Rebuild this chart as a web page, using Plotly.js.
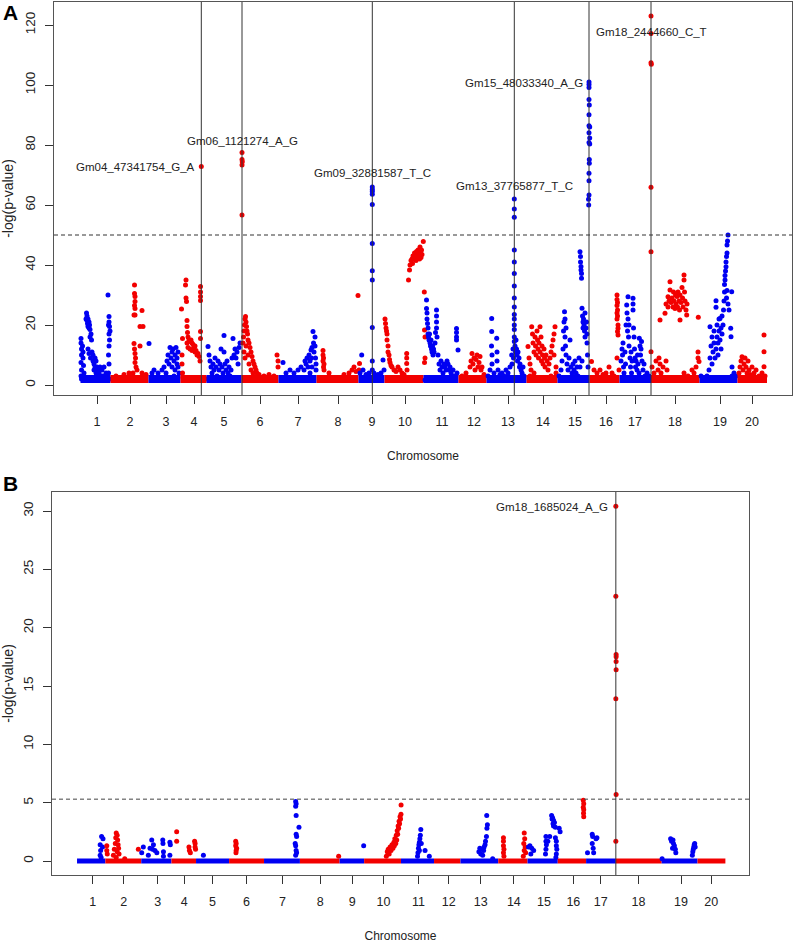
<!DOCTYPE html>
<html><head><meta charset="utf-8">
<script src="https://cdn.plot.ly/plotly-3.0.1.min.js"></script>
<style>html,body{margin:0;padding:0;background:#fff}</style>
</head><body><div id="chart" style="width:794px;height:943px"></div>
<script>
// ---------------- DATA ----------------
const chrLabels = ['1','2','3','4','5','6','7','8','9','10','11','12','13','14','15','16','17','18','19','20'];
// cumulative genome position (arbitrary units) of each chromosome label
const chrTicks = [43,76,112,140,170,206,244,284,318,351,388,420,454,489,521,552,581,621,666,698];
// chromosome boundaries on the cumulative axis
const chrBounds = [26.5,56.5,94.5,126.5,152.5,187.5,224.5,262.5,304.5,330.5,369.5,404.5,432.5,472.5,503.5,535.5,565.5,597,645.5,683.5,713];
// bulk level of the non-significant SNPs in each panel
const floorLevelA = 2.0;
const floorLevelB = 0;
const thresholdA = 50;
const thresholdB = 5.3;

// Panel A significant SNPs
const sigSnpA = ['Gm04_47341754_G_A','Gm06_1121274_A_G','Gm09_32881587_T_C','Gm13_37765877_T_C','Gm15_48033340_A_G','Gm18_2444660_C_T'];
const sigPosA = [147.3,188,318.3,460.3,535,597];
const sigValA = [72.8,77.5,66,62,101,123];
// Panel B significant SNP
const sigSnpB = ['Gm18_1685024_A_G'];
const sigPosB = [597];
const sigValB = [30.4];

// Panel A: [position, -log(p)] per chromosome
const a01 = [[27,15.5],[27,14],[27.5,12],[27.5,10],[27,7.5],[27.5,5],[27,3],[27.5,2],[28.5,13],[29,11],[29,9],[29.5,6.5],[30,4],
 [32,22],[32.5,24],[33,23],[33,21.5],[33.5,20.5],[34,19.5],[34,22],[35,21],[35,19],[35.5,20],[36,18.5],[36,16],[37,17],[37.5,15],[34,12],[35,10.5],[36.5,9],
 [38,11],[39,10],[39,8],[40,7],[40,5],[41,9],[41,6],[42,4],[42,8],[43,3],[43,6],[44,5],[44,2],[45,4],[46,3],[46,6],[47,2],[48,5],[48,3],[49,2],[50,6],[50,3],[51,2],[52,4],[53,2],
 [54,30],[54.5,20],[55,22.8],[55,21],[55.5,19.5],[56,18],[55,17],[55.5,15],[55,13],[54.5,10],[55,7],[54.5,4],[56,2]];
const a02 = [[80.5,33.3],[80.5,30.5],[81,29.5],[81,27.8],[80.5,26.5],[81,25.5],[81,23.3],[80,23.3],[88,24.8],[86,19.5],[89,19.5],[80,13.8],[80.5,12],[81,10.5],[81.5,9],[81,7.5],[82,6],[86,13],[83,5],[79,4],[88,4],[92,3.5],[70,3.5],[62,3],[75,4]];
const a03 = [[95,13.8],[98,4],[100,5],[104,4],[108,5],[110,6],[112,4],[113,8],[114,10],[115,7],[116,12.5],[117,9],[118,11],[118,6],[119,12],[120,8],[121,10],[121,5],[122,12.5],[123,9],[123,7],[124,6],[124,11],[125,4],[120,3]];
const a04 = [[127.5,25.3],[128.5,15.5],[128,10],[128,7],[128.5,4],[129,2.5],[132,35],[131.5,33.3],[132,29],[132.5,27.8],[133,21.5],[133,19.5],[133.5,17.5],[133,14],[134,16],[135,15],[136,14.5],[137,15],[138,14],[139,13.5],[140,12.5],[141,13],[141,11],[142,11.5],[143,10],[144,10.5],[145,9.5],[146,8],[136,12],[138,11.5],[134,12.5],
 [146.5,32.8],[146.5,31],[146.5,29.5],[146.5,28.2],[146.5,17.8],[146.5,15.5],[148,2],[150,2.5],[152,2],[147.3,72.8]];
const a05 = [[154,12.8],[155,10],[156,8],[157,6],[158,4],[159,7],[160,5],[161,9],[162,6],[163,3],[164,8],[165,5],[166,7],[167,12],[168,6],[169,4],[170,16.5],[170,11],[171,7],[172,5],[173,8],[174,4],[175,6],[176,3],[177,5],[178,9],[179,15.5],[180,10],[181,12],[182,9],[183,11],[184,7],[185,12.5],[186,14]];
const a06 = [[189,14],[189.5,16],[190,18],[190.5,20],[191,22],[191.5,22.8],[192,21],[192.5,19.5],[193,18],[193.5,17],[194,15],[195,14],[196,12.5],[197,11],[198,9.5],[199,8],[200,7],[201,6],[202,5],[203,4],[205,3.5],[190,11],[191,9],[192,13],[194,10],[195,7],[197,5],[199,4],[210,3],[215,3.5],[220,3],[223,10],[224,8],[224,6],
 [188,77.5],[188,75.2],[188.3,74.4],[188,73.3],[188,56.7]];
const a07 = [[229,7.5],[232,4],[236,5],[240,4],[244,5],[247,6],[250,5],[251,8],[252,7],[253,9],[254,6],[255,10],[256,8],[257,11.7],[257.5,9],[258,12.5],[259,17.8],[259.5,14],[260,11],[261,16],[261,13],[261.5,9],[262,7],[262,5],[258,6],[256,4]];
const a08 = [[269,11.5],[269,10],[269.5,9],[269,8],[270,7],[269.5,6],[270,5],[275,4],[290,3.5],[295,4],[298,5],[300,6],[302,4.5],[304,29.8],[305.5,7.2],[305,5]];
const a09 = [[307.7,10],[306,4],[309,5],[312,3.5],[315,4],[318.3,47.2],[318.3,38.1],[318.3,35],[318.3,19.2],[318.3,8],[318.3,5],[320,4],[324,3.5],[327,4],[329,8.3],[330,5],
 [318.3,66],[318.3,65.2],[318.3,64.5],[318.3,63.6],[318.3,60.2]];
const a10 = [[331,22],[331.5,20.5],[332,19],[332.5,18],[333,17],[333,15],[334,13],[334,11],[335,10],[335.5,8.5],[336,7.5],[337,6.5],[338,6],[340,5],[342,4.5],[344,6],[346,5],[348,4],[350,3.5],[352.7,10.5],[352.7,9],[352.7,7.2],[353,5],
 [354.5,35],[355.5,38.3],[356,40],[357,41.5],[358,42],[358.5,40.5],[359,43],[360,42],[360.5,44],[361,43],[362,41.5],[362.5,44.5],[363,42.5],[364,45],[364.5,43],[365,44],[365.5,42],[366,46],[366.5,44],[367,42.5],[367.5,45],[368,43.5],[369.3,47.8],[370.3,31],[370.5,18.3],[371,16],[371,9],[370.5,7.5]];
const a11 = [[371,1.7],[372.5,28.3],[372.5,25.5],[373,24],[373,22],[373.5,20.5],[374,19],[374,17],[374.5,16],[375,15],[375.5,17],[376,14],[376.5,13],[377,15],[377.5,12],[378,11],[378.5,13],[379,10],[379.5,12],[380,11],[381,14],[381.5,17.5],[382.5,25],[382.5,23],[382.5,21],[382.5,19],[383,16],[384,10],[385,7],[386,5],[387,8],[388,6],[389,4],[390,7],[391,6],[392,5],[393,8],[394,7],[395,5],[396,6],[397,4],[398,3],[399,5],[400,3],[402.5,18.8],[402.5,17.5],[402.5,16],[402.5,15],[404,11.7],[403,4]];
const a12 = [[408,3],[412,4],[416,6],[417,8],[418,10.5],[419,7],[420,9],[421,5],[422,8.5],[423,10],[424,6],[425,7.5],[426,9.5],[427,5],[428,6],[430,3.5]];
const a13 = [[434,3],[436,5],[437.7,22.2],[437.7,17.8],[437.5,13],[438,10],[438,7],[440,4],[442.7,15.6],[443,11],[443,8],[444,5],[446,3.5],[448,4],[450,3],[452,5],[454,4],[456,6],[457.7,10],[458,7],[459,12],[459.5,9],
 [460.3,45],[460.3,41],[460.3,37.2],[460.3,33],[460.3,29],[460.3,26],[460.3,23.5],[460.3,22],[460.3,20],[460.3,18.5],[460.3,16],[460.3,14.5],[461,13],[461.5,11],[462,15],[462.5,12],[463,10],[463.5,8],[464,11],[465,9],[465.5,6],[466,7],[467,5],[468,4],[469,6],[470,3],
 [460.3,62],[460.3,58.7],[460.3,55.9]];
const a14 = [[474,12.8],[475,9],[476,7],[477,5],[477.7,19.4],[478.5,17],[479,14],[480,11],[481,16],[481.5,13],[482,10],[483,18],[483.5,15],[484,12],[484.5,9],[485,14],[486,19.4],[486,11],[487,16],[487.5,8],[488,13],[488.5,10],[489,7],[490,12],[490.5,9],[491,6],[492,10],[493,8],[494,5],[495,7],[496,9],[497,11],[498,13],[499,15],[500,17],[501,19.4],[500,10],[502,6],[502,4],[476,3],[480,4],[497,3]];
const a15 = [[505,3],[507,5],[508,8],[509,12],[509.5,18],[510,21],[510.5,24.4],[511,22],[511,16],[511.5,13],[512,19],[512,10],[513,7],[514,5],[515,9],[516,15],[517,6],[518,4],[519,7],[520,5],[521,8],[522,4],[523,6],[524,3],
 [526,44.4],[526.5,42.8],[526.5,41],[527,39.5],[527,38.3],[527.5,37.2],[527.5,35.6],[528,25.6],[528.5,23],[529,21],[529,19],[529.5,22],[530,20],[530.5,18],[531,24],[531,16],[532,19],[532.5,21],[533,17],[533,14],[533.5,10],[534,6],[525,9],[526,6],[528,8],
 [535,101],[535,100.2],[535,99.2],[535,95.2],[535.3,93.3],[535,90.1],[535,86.4],[535.7,86],[535,84.1],[535.7,82.3],[535,80.8],[535.7,80.3],[535.3,75.2],[535.3,73.9],[535,70.6],[535,68.1],[535,63.3],[534.5,61.9],[534.7,60]];
const a16 = [[537.5,7.8],[540,5],[543,4],[546,5],[549,3.5],[552,4],[555,6],[558,4],[560,3],[563,30],[563,28.5],[563.5,27.5],[563,26.5],[563.5,25],[563,24],[563.5,23],[563,22],[564,20],[564,18.9],[563.5,17.8],[564,16.7],[563,9],[565,5]];
const a17 = [[567,8],[568,12],[568.5,10],[569,14],[569.5,6],[570,4],[571,11],[571.5,7],[572,20],[572.7,26.7],[573,24],[573.5,18],[574,29.4],[574,22],[574.5,16],[575,20],[575,13],[576,9],[576.5,6],[577,11],[577.5,4],[578,8],[579,28.9],[579,27],[579,25],[579.5,19],[580,16],[580.5,12],[581,9],[581.5,6],[582,8],[583,5],[583.5,10],[584,7],[585,4],[585.3,15.6],[586,13],[586.5,10],[587,12],[587.5,14.5],[588,8],[589,5],[590,7],[591,3],[593,4],[595,3]];
const a18 = [[597,123],[597,117.2],[597,107.4],[597.3,106.9],[597,65.9],[597,44.4],[597,11.1],
 [598,6],[600,4],[602,8],[604,5],[605,9],[606,21.7],[606,7],[607,4],[609,6],[611,23.9],[612,27],[612,8],[613,5],[614,29.4],[614,26],[615,28],[616,34.4],[616,31.7],[617,27.5],[618,29],[619,26],[619.5,31],[620,28],[621,25.5],[621.5,30],[622,27],[623,29.5],[623.5,26],[624,31],[625,28],[625.5,25],[626,30],[626,21.7],[627,27.5],[628,32.5],[628.5,29],[629,26],[630,36.7],[630,35],[630.5,31],[631,28],[632,25],[632.7,23.3],[633,27],[630,4],[634,3],[638,5],[640,4],[642,6],[644,11],[644,9],[644.3,22.6],[645,7.8]];
const a19 = [[647,3],[650,2.5],[653,3],[655,5],[656,19.4],[656,9],[657,13],[658,16],[658,7],[659,11],[660,14],[660,18],[661,9],[662,28.1],[662,25.9],[662,12],[663,16],[663,20],[664,14],[664,10],[665,18],[665,22],[666,22.2],[666,15],[667,19],[667,12],[668,17],[668,23],[669,20],[669.5,25],[670,28],[670.5,31],[670.5,33.5],[671,35],[671,36.5],[671.5,38],[672,39.4],[672,41],[672.5,42.8],[673,44],[673,46.7],[673.5,48],[674,50],[672.5,29],[673,31.5],[674,27],[675,25],[676.7,18.9],[677,16.1],[677.7,31.1],[678,6],[678,3],[680,4],[682,3]];
const a20 = [[685,4],[686,6],[687,8],[688,9.4],[689,5],[690,7],[691,9],[692,6],[693,4],[694,8],[695,5],[696,3.5],[698,6],[700,4],[702,5],[705,3],[708,4],[710,16.7],[710,11.1],[710,6.1],[711,3]];

// Panel B: [position, -log(p)] per chromosome
const b01 = [[52.5,2.1],[54,1.9],[51,1.4],[51.5,0.9],[51,0.5],[52,0.3],[53.5,1.2]];
const b02 = [[58,1.3],[58,0.9],[58.5,0.6],[65,0.5],[66,1.0],[67,1.5],[67.5,2.0],[68,2.4],[69,2.2],[69.5,1.8],[70,1.4],[70.5,1.1],[69,0.8],[68,0.3],[71,0.6],[77,0.2],[91.4,1.0]];
const b03 = [[95,0.7],[96.7,1.2],[102,0.5],[103.8,1.1],[105.6,1.8],[106.5,1.0],[107.4,1.4],[109,0.9],[111,0.7],[117.3,1.8],[117.5,1.5],[118,0.8],[118,0.4],[124.8,1.6],[125.3,1.4],[124.8,0.5]];
const b04 = [[132,2.5],[132,1.7],[145,1.2],[145.5,0.9],[146.5,0.7],[151,1.7],[151.5,1.5],[151.5,1.2],[152,1.0]];
const b05 = [[160.3,0.5]];
const b06 = [[194.5,1.7],[195,1.5],[194.5,1.3],[195.5,1.1],[195,0.9],[194.8,0.7]];
const b07 = [[258,5.1],[258.5,4.9],[258,4.7],[258.5,3.9],[261.5,2.9],[258.5,2.3],[259,2.1],[257.5,1.5],[258,1.3],[258.5,0.9],[259,0.7],[258,0.5]];
const b08 = [[303.5,0.4]];
const b09 = [[330,1.3]];
const b10 = [[354,0.4],[355,0.8],[356,1.0],[357,0.6],[358,1.2],[359,0.9],[360,1.4],[361,1.1],[362,1.6],[362.5,1.3],[363,1.9],[364,1.5],[364.5,2.2],[365,1.8],[365.5,2.6],[366,2.3],[366.5,3.0],[367,2.8],[367.5,3.4],[368,3.2],[368.5,3.8],[369,3.6],[369.5,4.0],[369.6,4.8]];
const b11 = [[390.5,2.7],[390,2.2],[389.5,1.9],[389,1.6],[388.5,1.4],[388,1.1],[387.5,0.7],[387,0.4],[389,0.9],[391,1.5],[395,0.9],[399.5,0.4]];
const b12 = [];
const b13 = [[460.3,3.9],[461,3.1],[460.5,2.8],[460,2.1],[459,1.7],[458.5,1.4],[457,0.9],[452,0.8],[453,1.1],[454,0.6],[455,1.0],[456,0.5],[457.5,1.2],[466.6,0.2]];
const b14 = [[478,2.0],[478,1.7],[478,1.3],[478.5,1.0],[478,0.7],[478.5,0.4],[500,2.4],[500.5,1.9],[499.5,1.5],[501,1.2],[500,0.9],[501.5,0.7],[499,0.4]];
const b15 = [[504.5,1.2],[506,1.3],[508,1.1],[510,0.9],[507,0.6],[523,2.1],[523,1.7],[523.5,1.4],[523,1.0],[522.5,0.6],[527,2.1],[525,1.7],[529,3.9],[530,3.7],[531,3.5],[532,3.3],[531,3.0],[533,2.9],[530.5,3.2],[529.5,3.6],[537,2.8],[538,2.5],[534,1.7],[534,1.3],[534.5,1.0],[534,0.6],[533.5,0.3],[533,2.0]];
const b16 = [[562.5,5.2],[563,4.9],[562.5,4.6],[563,4.4],[562.8,4.1],[563,3.8]];
const b17 = [[567,0.7],[572,2.3],[572.5,2.1],[576,1.9],[572,1.5],[573,1.1],[573.5,0.7],[577,2.0]];
const b18 = [[597,30.4],[597,22.7],[597.3,17.7],[597.3,17.5],[597.3,17.1],[597.3,16.4],[597,13.9],[597.3,5.7],[597,1.7]];
const b19 = [[646,0.2],[655,1.9],[656,1.7],[657.5,1.8],[658,1.5],[659,1.3],[657,1.1],[660,1.0],[660.5,0.7],[678,0.5],[678.5,0.8],[679,1.0],[679.5,1.2],[680,1.4],[680.5,1.5],[681,1.2]];
const b20 = [];

// ---------------- STYLE / BUILD ----------------
const BLUE = '#0000F2', RED = '#F20000';
const REG = '"Liberation Sans", Arial, sans-serif';
const aChrs = [a01,a02,a03,a04,a05,a06,a07,a08,a09,a10,a11,a12,a13,a14,a15,a16,a17,a18,a19,a20];
const bChrs = [b01,b02,b03,b04,b05,b06,b07,b08,b09,b10,b11,b12,b13,b14,b15,b16,b17,b18,b19,b20];

function build(chrs, xa, ya, floorLevel, floorWidth, msize) {
  const out = [];
  chrs.forEach((pts, i) => {
    const col = i % 2 === 0 ? BLUE : RED;
    out.push({type:'scatter', mode:'lines', x:[chrBounds[i], chrBounds[i+1]], y:[floorLevel, floorLevel],
      xaxis:xa, yaxis:ya, line:{color:col, width:floorWidth}, hoverinfo:'skip', showlegend:false});
    out.push({type:'scatter', mode:'markers', name:'Chr ' + chrLabels[i],
      x:pts.map(p => p[0]), y:pts.map(p => p[1]), xaxis:xa, yaxis:ya,
      marker:{color:col, size:msize, line:{width:0}}, showlegend:false});
  });
  return out;
}
const traces = build(aChrs, 'x', 'y', floorLevelA, 8, 5).concat(build(bChrs, 'x2', 'y2', floorLevelB, 5, 5));

const xTickFont = {family:REG, size:12.5, color:'#222'};
const yTickFont = {family:REG, size:13.5, color:'#222'};
function xAxis(domain, anchor) {
  return {domain:domain, anchor:anchor, range:[0,738], tickmode:'array', tickvals:chrTicks, ticktext:chrLabels,
    ticks:'outside', ticklen:8, tickcolor:'#333', showline:true, mirror:true, linecolor:'#555', linewidth:1,
    showgrid:false, zeroline:false, tickfont:xTickFont, ticklabelstandoff:7,
    title:{text:'Chromosome', font:{family:REG, size:12, color:'#222'}, standoff:23}};
}
function yAxis(domain, anchor, range, tv) {
  return {domain:domain, anchor:anchor, range:range, tickmode:'array', tickvals:tv, tickangle:-90,
    ticks:'outside', ticklen:8, tickcolor:'#333', showline:true, mirror:true, linecolor:'#555', linewidth:1,
    showgrid:false, zeroline:false, tickfont:yTickFont, ticklabelstandoff:5,
    title:{text:'-log(p-value)', font:{family:REG, size:14, color:'#222'}, standoff:10}};
}

const shapes = [
  {type:'line', xref:'x domain', x0:0, x1:1, yref:'y', y0:thresholdA, y1:thresholdA, line:{color:'#333', width:1, dash:'4px,3px'}},
  {type:'line', xref:'x2 domain', x0:0, x1:1, yref:'y2', y0:thresholdB, y1:thresholdB, line:{color:'#444', width:1, dash:'4px,3px'}}
];
sigPosA.forEach(p => shapes.push({type:'line', xref:'x', x0:p, x1:p, yref:'y domain', y0:0, y1:1, line:{color:'#333', width:1}}));
sigPosB.forEach(p => shapes.push({type:'line', xref:'x2', x0:p, x1:p, yref:'y2 domain', y0:0, y1:1, line:{color:'#333', width:1}}));

// label placement relative to the SNP (pixels)
const labelPlaceA = [
  {xanchor:'right', xshift:-4, yshift:0},
  {xanchor:'center', xshift:0, yshift:11.5},
  {xanchor:'center', xshift:0, yshift:14},
  {xanchor:'center', xshift:0, yshift:13},
  {xanchor:'right', xshift:-4, yshift:-1},
  {xanchor:'center', xshift:0, yshift:-16}
];
const labelPlaceB = [{xanchor:'right', xshift:-6, yshift:-1}];
const labFont = {family:REG, size:11.5, color:'#222'};
const annotations = [];
sigSnpA.forEach((s, i) => annotations.push(Object.assign({text:s, x:sigPosA[i], y:sigValA[i], xref:'x', yref:'y',
  showarrow:false, yanchor:'middle', font:labFont}, labelPlaceA[i])));
sigSnpB.forEach((s, i) => annotations.push(Object.assign({text:s, x:sigPosB[i], y:sigValB[i], xref:'x2', yref:'y2',
  showarrow:false, yanchor:'middle', font:labFont}, labelPlaceB[i])));
annotations.push({text:'<b>A</b>', xref:'paper', yref:'paper', x:10/794, y:1-13/943, xanchor:'center', yanchor:'middle', showarrow:false, font:{family:REG, size:21, color:'#000'}});
annotations.push({text:'<b>B</b>', xref:'paper', yref:'paper', x:10/794, y:1-484/943, xanchor:'center', yanchor:'middle', showarrow:false, font:{family:REG, size:21, color:'#000'}});

const layout = {
  width:794, height:943, margin:{l:0, r:0, t:0, b:0}, paper_bgcolor:'#fff', plot_bgcolor:'#fff', showlegend:false,
  xaxis: xAxis([54/794, 792/794], 'y'),
  yaxis: yAxis([548/943, 941/943], 'x', [-3.33, 127.67], [0,20,40,60,80,100,120]),
  xaxis2: xAxis([52/794, 749/794], 'y2'),
  yaxis2: yAxis([68/943, 451/943], 'x2', [-1.2, 31.63], [0,5,10,15,20,25,30]),
  shapes: shapes, annotations: annotations
};
Plotly.newPlot('chart', traces, layout, {displayModeBar:false, staticPlot:true});
</script></body></html>
